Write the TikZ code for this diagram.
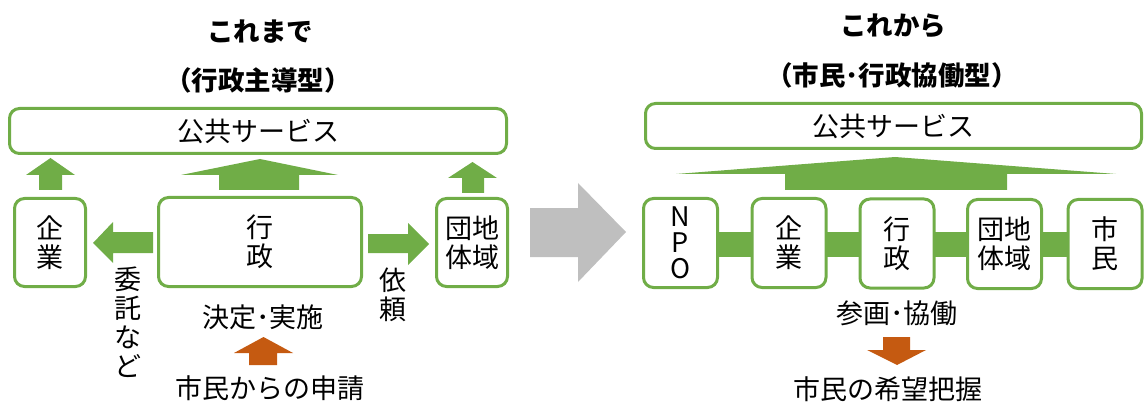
\documentclass[tikz,border=0pt]{standalone}
\usepackage{fontspec}
\setmainfont{Noto Sans CJK JP}
\usetikzlibrary{calc}
\definecolor{gr}{HTML}{70AD47}
\definecolor{og}{HTML}{C55A11}
\definecolor{gy}{HTML}{BFBFBF}
\begin{document}
\begin{tikzpicture}[x=1pt,y=-1pt,
  box/.style={draw=gr,line width=3pt,rounded corners=10pt,fill=white,inner sep=0pt},
  sbox/.style={box,minimum width=74pt,minimum height=89pt},
  txt/.style={font=\fontsize{27}{29}\selectfont,align=center,inner sep=0pt},
  ttl/.style={font=\fontsize{26.5}{28}\selectfont\bfseries,inner sep=0pt},
  vtxt/.style={font=\fontsize{27}{29}\selectfont,align=center,inner sep=0pt}]
\useasboundingbox (0,0) rectangle (1145,406);
% ---------- left ----------
\node[ttl] (t1) at (260,32) {これまで};
\node[ttl] (t2) at (258,80) {（行政主導型）};
\node[box,minimum width=497pt,minimum height=45pt] (lps) at (258,131) {};
\node[txt] at (lps) {公共サービス};
\node[box,minimum width=71pt,minimum height=88pt] (lkigyo) at (50,242.5) {};
\node[vtxt] at (lkigyo) {企\\業};
\node[box,minimum width=203pt,minimum height=89pt] (lgyosei) at (260,242) {};
\node[vtxt] at (lgyosei) {行\\政};
\node[box,minimum width=71pt,minimum height=88pt] (ldantai) at (472,242.5) {};
\node[vtxt] at (ldantai) {団地\\体域};
% up arrows
\fill[gr] (39,190) -- (39,175) -- (26,175) -- (50.5,158) -- (75,175) -- (62,175) -- (62,190) -- cycle;
\fill[gr] (219,190) -- (219,175) -- (181,175) -- (260,159) -- (338,175) -- (299,175) -- (299,190) -- cycle;
\fill[gr] (462,193) -- (462,178) -- (448,178) -- (472.5,162) -- (497,178) -- (484,178) -- (484,193) -- cycle;
% left arrow
\fill[gr] (153,232) -- (113,232) -- (113,222) -- (93,243) -- (113,263) -- (113,253) -- (153,253) -- cycle;
% right arrow
\fill[gr] (368,234) -- (408,234) -- (408,223) -- (429,244) -- (408,265) -- (408,253) -- (368,253) -- cycle;
\node[vtxt] (itaku) at (128,322) {委\\託\\な\\ど};
\node[vtxt] (irai) at (393,295) {依\\頼};
\node[txt] (kettei) at (263,317) {決定･実施};
\fill[og] (249,365) -- (249,353) -- (234,353) -- (263.5,337) -- (293,353) -- (277,353) -- (277,365) -- cycle;
\node[txt] (shinsei) at (270,388) {市民からの申請};
% ---------- grey arrow ----------
\fill[gy] (530,208) -- (578,208) -- (578,183) -- (626,232) -- (578,282) -- (578,257) -- (530,257) -- cycle;
% ---------- right ----------
\node[ttl] (t3) at (893,26) {これから};
\node[ttl] (t4) at (892,75) {（市民･行政協働型）};
\node[box,minimum width=496pt,minimum height=45pt] (rps) at (893.5,126) {};
\node[txt] at (rps) {公共サービス};
\fill[gr] (785,190) -- (785,174) -- (676,174) -- (895,157) -- (1116,174) -- (1007,174) -- (1007,190) -- cycle;
\coordinate (barL) at (700,232);
\coordinate (barR) at (1090,257);
\fill[gr] (barL) rectangle (barR);
\node[sbox] (npo) at (680.5,243) {};
\node[font=\fontsize{27}{26}\selectfont,align=center,inner sep=0pt] at (npo) {N\\P\\O};
\node[sbox] (rkigyo) at (789,243) {};
\node[vtxt] at (rkigyo) {企\\業};
\node[sbox] (rgyosei) at (897,243.5) {};
\node[vtxt] at (rgyosei) {行\\政};
\node[sbox] (rdantai) at (1004.5,244) {};
\node[vtxt] at (rdantai) {団地\\体域};
\node[sbox] (rshimin) at (1105,244) {};
\node[vtxt] at (rshimin) {市\\民};
\node[txt] (sankaku) at (897,313) {参画･協働};
\fill[og] (883,337) -- (910,337) -- (910,350) -- (926,350) -- (897,365) -- (867,350) -- (883,350) -- cycle;
\node[txt] (kibou) at (888,389) {市民の希望把握};
\end{tikzpicture}
\end{document}
